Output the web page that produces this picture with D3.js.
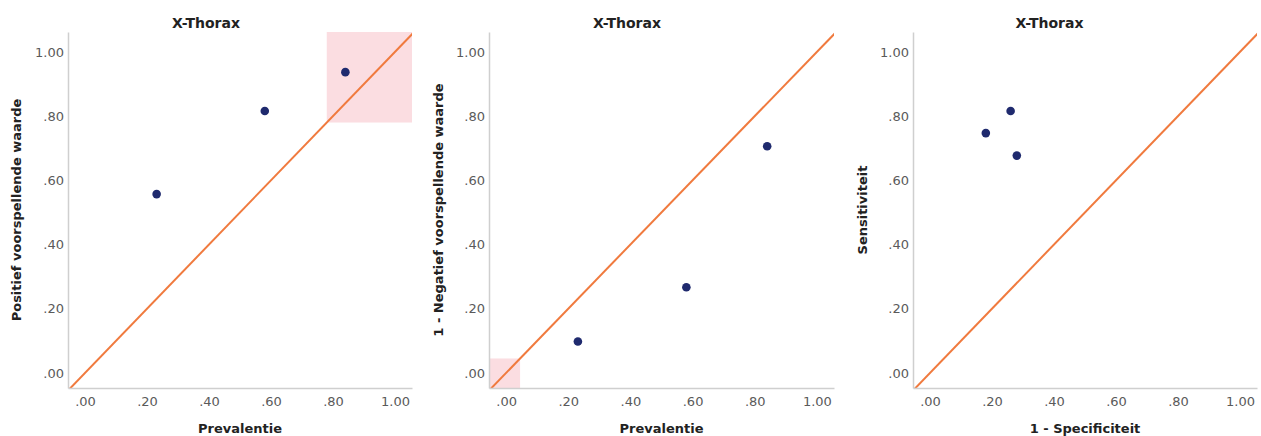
<!DOCTYPE html>
<html>
<head>
<meta charset="utf-8">
<script src="https://cdn.jsdelivr.net/npm/d3@7"></script>
<style>
  body { margin: 0; background: #fff; }
  svg { display: block; }
</style>
</head>
<body>
<script>
var w = 1261;
var h = 436;

// data
var prevalentie = [0.231, 0.58, 0.84];
var positiefVW = [0.557, 0.816, 0.937];
var negatiefVW1 = [0.098, 0.267, 0.706];
var specificiteit1 = [0.18, 0.26, 0.28];
var sensitiviteit = [0.747, 0.816, 0.677];
var tickValues = [0, 0.2, 0.4, 0.6, 0.8, 1.0];

var panels = [
  { left: 68, right: 412, title: "X-Thorax", xTitle: "Prevalentie",
    yTitle: "Positief voorspellende waarde", yTitleX: 16,
    xs: prevalentie, ys: positiefVW, zone: [0.78, 1.1] },
  { left: 489, right: 834, title: "X-Thorax", xTitle: "Prevalentie",
    yTitle: "1 - Negatief voorspellende waarde", yTitleX: 438,
    xs: prevalentie, ys: negatiefVW1, zone: [-0.1, 0.045] },
  { left: 913, right: 1257, title: "X-Thorax", xTitle: "1 - Specificiteit",
    yTitle: "Sensitiviteit", yTitleX: 862,
    xs: specificiteit1, ys: sensitiviteit, zone: null }
];

var plotTop = 32;
var plotBottom = 388;

var fmt = function (d) {
  return d >= 1 ? "1.00" : d3.format(".2f")(d).replace(/^0/, "");
};

var svg = d3.select("body").append("svg").attr("width", w).attr("height", h);

panels.forEach(function (p, i) {
  var xScale = d3.scaleLinear().domain([-0.055, 1.055]).range([p.left, p.right]);
  var yScale = d3.scaleLinear().domain([-0.047, 1.062]).range([plotBottom, plotTop]);

  svg.append("clipPath").attr("id", "clip" + i)
    .append("rect")
    .attr("x", p.left).attr("y", plotTop)
    .attr("width", p.right - p.left).attr("height", plotBottom - plotTop);

  var g = svg.append("g");
  var plot = g.append("g").attr("clip-path", "url(#clip" + i + ")");

  // reference zone
  if (p.zone) {
    plot.append("rect")
      .attr("x", xScale(p.zone[0]))
      .attr("y", yScale(p.zone[1]))
      .attr("width", xScale(p.zone[1]) - xScale(p.zone[0]))
      .attr("height", yScale(p.zone[0]) - yScale(p.zone[1]))
      .attr("fill", "#fbdde1");
  }

  // diagonal y = x
  plot.append("line")
    .attr("x1", xScale(-0.1)).attr("y1", yScale(-0.1))
    .attr("x2", xScale(1.1)).attr("y2", yScale(1.1))
    .attr("stroke", "#f07a3e")
    .attr("stroke-width", 2);

  // axes
  var xAxis = g.append("g")
    .attr("transform", "translate(0," + plotBottom + ")")
    .call(d3.axisBottom(xScale).tickValues(tickValues).tickFormat(fmt).tickSize(0).tickPadding(9));
  var yAxis = g.append("g")
    .attr("transform", "translate(" + p.left + ",0)")
    .call(d3.axisLeft(yScale).tickValues(tickValues).tickFormat(fmt).tickSize(0).tickPadding(4));

  [xAxis, yAxis].forEach(function (a) {
    a.select(".domain").attr("stroke", "#cfcfcf").attr("stroke-width", 1.5);
    a.selectAll("text")
      .attr("font-family", "DejaVu Sans, sans-serif")
      .attr("font-size", "13px")
      .attr("fill", "#5a5a5a");
  });

  // points
  g.selectAll("circle")
    .data(p.xs.map(function (x, k) { return { x: x, y: p.ys[k] }; }))
    .enter()
    .append("circle")
    .attr("cx", function (d) { return xScale(d.x); })
    .attr("cy", function (d) { return yScale(d.y); })
    .attr("r", 4.3)
    .attr("fill", "#1f2a6e");

  // titles
  var panelLeft = i === 0 ? 0 : panels[i - 1].right + 8;
  g.append("text")
    .text(p.title)
    .attr("x", (panelLeft + p.right) / 2)
    .attr("y", 28)
    .attr("text-anchor", "middle")
    .attr("font-family", "DejaVu Sans, sans-serif")
    .attr("font-weight", "bold")
    .attr("font-size", "14px")
    .attr("fill", "#222");

  g.append("text")
    .text(p.xTitle)
    .attr("x", (p.left + p.right) / 2)
    .attr("y", 433)
    .attr("text-anchor", "middle")
    .attr("font-family", "DejaVu Sans, sans-serif")
    .attr("font-weight", "bold")
    .attr("font-size", "13px")
    .attr("fill", "#222");

  g.append("text")
    .text(p.yTitle)
    .attr("transform", "translate(" + p.yTitleX + "," + (plotTop + plotBottom) / 2 + ") rotate(-90)")
    .attr("dy", "0.35em")
    .attr("text-anchor", "middle")
    .attr("font-family", "DejaVu Sans, sans-serif")
    .attr("font-weight", "bold")
    .attr("font-size", "13px")
    .attr("fill", "#222");
});
</script>
</body>
</html>
